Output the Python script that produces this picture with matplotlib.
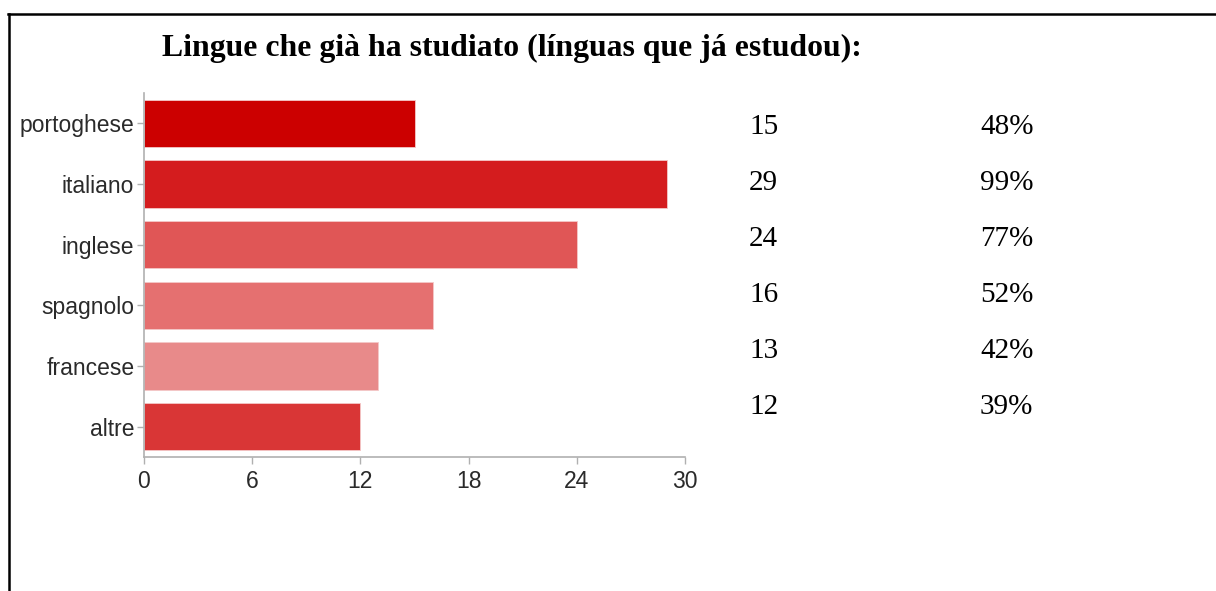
import matplotlib
matplotlib.use("Agg")
from matplotlib import pyplot as plt
from matplotlib.lines import Line2D
import numpy as np

languages = ["portoghese", "italiano", "inglese", "spagnolo", "francese", "altre"]
counts = [15, 29, 24, 16, 13, 12]
percents = ["48%", "99%", "77%", "52%", "42%", "39%"]
bar_colors = ["#cc0000", "#d41c1e", "#e05656", "#e57070", "#e88a8a", "#d93636"]
x_ticks = [0, 6, 12, 18, 24, 30]
title = "Lingue che già ha studiato (línguas que já estudou):"

fig = plt.figure(figsize=(12.16, 5.91), dpi=100)
fig.patch.set_facecolor("white")

# frame lines of the table cell
fig.add_artist(Line2D([8 / 1216, 1.0], [1 - 13.5 / 591, 1 - 13.5 / 591], color="black", lw=1.8))
fig.add_artist(Line2D([8.5 / 1216, 8.5 / 1216], [0, 1 - 13.5 / 591], color="black", lw=1.8))

fig.text(162 / 1216, 1 - 48 / 591, title, fontsize=22.9, fontweight="bold",
         family="Liberation Serif", ha="left", va="center")

ax = fig.add_axes([144 / 1216, 1 - 457 / 591, 541 / 1216, 364 / 591])
y = np.arange(len(languages))
ax.barh(y, counts, height=0.78, color=bar_colors, edgecolor="#f4c8c8", linewidth=0.6)
ax.set_xlim(0, 30)
ax.set_ylim(len(languages) - 0.5, -0.5)
ax.set_yticks(y)
ax.set_yticklabels(languages)
ax.set_xticks(x_ticks)
for s in ["top", "right"]:
    ax.spines[s].set_visible(False)
for s in ["left", "bottom"]:
    ax.spines[s].set_color("#b0b0b0")
    ax.spines[s].set_linewidth(1.2)
ax.tick_params(axis="both", colors="#b0b0b0", length=5, width=1, labelcolor="#2a2a2a",
               labelsize=16.5, labelfontfamily="Liberation Sans")
ax.tick_params(axis="y", pad=2)
ax.tick_params(axis="x", pad=4)

# count / percent columns
for i, (c, p) in enumerate(zip(counts, percents)):
    yy = 1 - (127 + 56 * i) / 591
    fig.text(749 / 1216, yy, str(c), fontsize=21, family="Liberation Serif", ha="left", va="center")
    fig.text(980 / 1216, yy, p, fontsize=21, family="Liberation Serif", ha="left", va="center")

fig.savefig("out.png", dpi=100, facecolor="white")
